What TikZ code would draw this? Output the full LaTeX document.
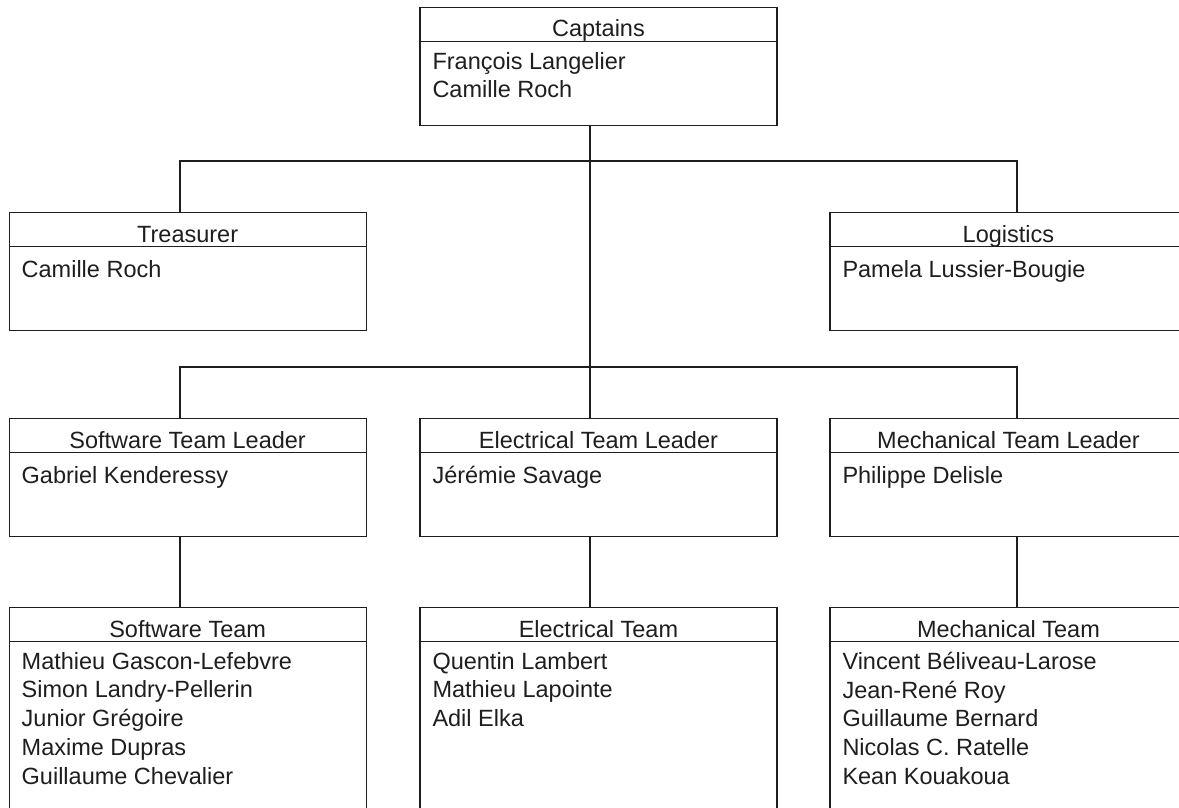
\documentclass[tikz,border=0pt]{standalone}
\usepackage{fontspec}
\setmainfont{Liberation Sans}
\usepackage{tikz}
\usetikzlibrary{calc,positioning}
\definecolor{ink}{RGB}{30,30,30}

\begin{document}
\begin{tikzpicture}[x=1pt,y=-1pt,
    box/.style={draw=ink,line width=1.3pt,rectangle,inner sep=0pt,minimum width=357pt,minimum height=118pt,anchor=north west},
    tallbox/.style={box,minimum height=230pt},
    head/.style={inner sep=0pt,anchor=base,text=ink,font=\fontsize{23.5}{28.7}\selectfont},
    body/.style={inner sep=0pt,anchor=north west,align=left,text=ink,font=\fontsize{23.5}{28.7}\selectfont,
       execute at begin node={\rule{0pt}{20pt}}},
    ed/.style={draw=ink,line width=1.3pt}]
   \useasboundingbox (0,0) rectangle (1179,808);
   \clip (0,0) rectangle (1179,808);
   % boxes
   \node[box]     (cap) at (419.3,7)   {};
   \node[box]     (tre) at (8.5,212)   {};
   \node[box]     (log) at (829.3,212) {};
   \node[box]     (swl) at (8.5,418)   {};
   \node[box]     (ell) at (419.3,418) {};
   \node[box]     (mel) at (829.3,418) {};
   \node[tallbox] (swt) at (8.5,607)   {};
   \node[tallbox] (elt) at (419.3,607) {};
   \node[tallbox] (met) at (829.3,607) {};
   \foreach \n in {cap,tre,log,swl,ell,mel,swt,elt,met}
      \draw[ed] ([yshift=-34.5pt]\n.north west) -- ([yshift=-34.5pt]\n.north east);
   % titles
   \node[head] (cap-t) at ([yshift=-30pt]cap.north) {Captains};
   \node[head] (tre-t) at ([yshift=-30pt]tre.north) {Treasurer};
   \node[head] (log-t) at ([yshift=-30pt]log.north) {Logistics};
   \node[head] (swl-t) at ([yshift=-30pt]swl.north) {Software Team Leader};
   \node[head] (ell-t) at ([yshift=-30pt]ell.north) {Electrical Team Leader};
   \node[head] (mel-t) at ([yshift=-30pt]mel.north) {Mechanical Team Leader};
   \node[head] (swt-t) at ([yshift=-30pt]swt.north) {Software Team};
   \node[head] (elt-t) at ([yshift=-30pt]elt.north) {Electrical Team};
   \node[head] (met-t) at ([yshift=-30pt]met.north) {Mechanical Team};
   % members
   \node[body] (cap-b) at ([xshift=13pt,yshift=-45pt]cap.north west) {François Langelier\\Camille Roch};
   \node[body] (tre-b) at ([xshift=13pt,yshift=-45pt]tre.north west) {Camille Roch};
   \node[body] (log-b) at ([xshift=13pt,yshift=-45pt]log.north west) {Pamela Lussier-Bougie};
   \node[body] (swl-b) at ([xshift=13pt,yshift=-45pt]swl.north west) {Gabriel Kenderessy};
   \node[body] (ell-b) at ([xshift=13pt,yshift=-45pt]ell.north west) {Jérémie Savage};
   \node[body] (mel-b) at ([xshift=13pt,yshift=-45pt]mel.north west) {Philippe Delisle};
   \node[body] (swt-b) at ([xshift=13pt,yshift=-45pt]swt.north west) {Mathieu Gascon-Lefebvre\\Simon Landry-Pellerin\\Junior Grégoire\\Maxime Dupras\\Guillaume Chevalier};
   \node[body] (elt-b) at ([xshift=13pt,yshift=-45pt]elt.north west) {Quentin Lambert\\Mathieu Lapointe\\Adil Elka};
   \node[body] (met-b) at ([xshift=13pt,yshift=-45pt]met.north west) {Vincent Béliveau-Larose\\Jean-René Roy\\Guillaume Bernard\\Nicolas C. Ratelle\\Kean Kouakoua};
   % connectors
   \coordinate (xl) at (180,0);
   \coordinate (xm) at (590,0);
   \coordinate (xr) at (1017,0);
   \coordinate (j1) at (590,161);
   \coordinate (j2) at (590,367);
   \draw[ed] (cap.south -| xm) -- (ell.north -| xm);
   \draw[ed] (tre.north -| xl) |- (j1) -| (log.north -| xr);
   \draw[ed] (swl.north -| xl) |- (j2) -| (mel.north -| xr);
   \draw[ed] (swl.south -| xl) -- (swt.north -| xl);
   \draw[ed] (ell.south -| xm) -- (elt.north -| xm);
   \draw[ed] (mel.south -| xr) -- (met.north -| xr);
  \end{tikzpicture}
\end{document}
